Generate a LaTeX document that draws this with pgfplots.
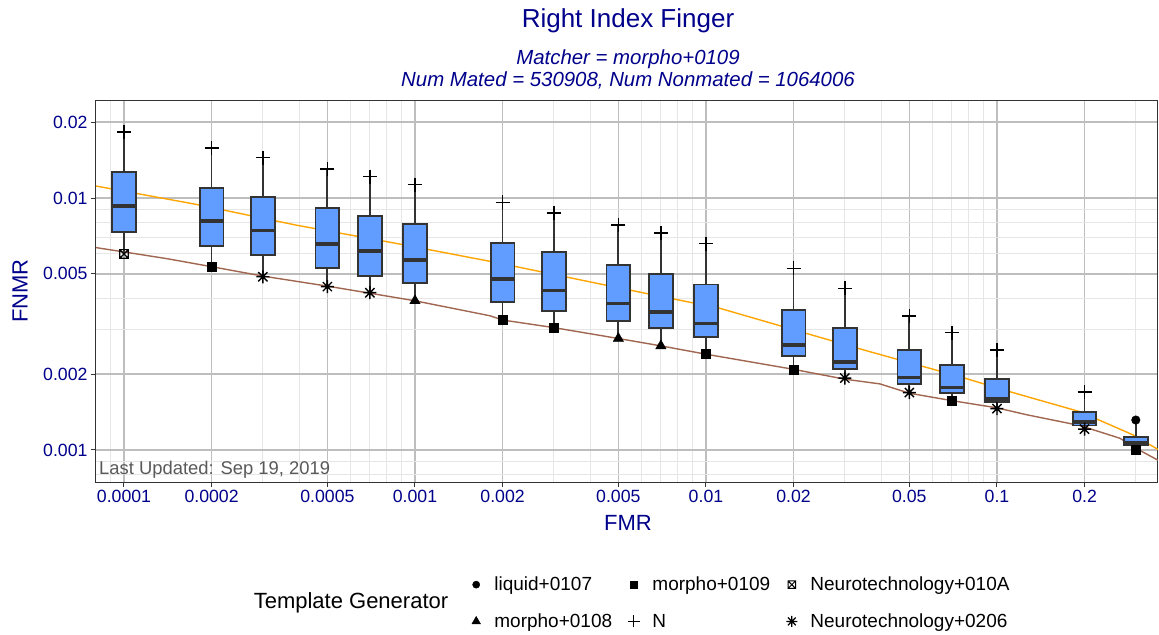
\documentclass[border=0pt]{standalone}
\usepackage{fontspec}
\setmainfont{Liberation Sans}
\usepackage{pgfplots}
\pgfplotsset{compat=1.18}
\definecolor{tblue}{HTML}{00008B}
\definecolor{boxfill}{HTML}{619CFF}
\definecolor{boxline}{HTML}{333333}
\definecolor{brownl}{HTML}{A0664F}
\definecolor{orangel}{HTML}{FFA500}
\definecolor{majgrid}{HTML}{BEBEBE}
\definecolor{mingrid}{HTML}{E6E6E6}
\newcommand{\fs}[1]{\fontsize{#1}{#1}\selectfont}
\pgfdeclareplotmark{boxx}{%
  \pgfpathrectangle{\pgfqpoint{-\pgfplotmarksize}{-\pgfplotmarksize}}{\pgfqpoint{2\pgfplotmarksize}{2\pgfplotmarksize}}%
  \pgfpathmoveto{\pgfqpoint{-\pgfplotmarksize}{-\pgfplotmarksize}}\pgfpathlineto{\pgfqpoint{\pgfplotmarksize}{\pgfplotmarksize}}%
  \pgfpathmoveto{\pgfqpoint{-\pgfplotmarksize}{\pgfplotmarksize}}\pgfpathlineto{\pgfqpoint{\pgfplotmarksize}{-\pgfplotmarksize}}%
  \pgfusepathqstroke}
\pgfdeclareplotmark{ast8}{%
  \pgfpathmoveto{\pgfqpoint{-\pgfplotmarksize}{0pt}}\pgfpathlineto{\pgfqpoint{\pgfplotmarksize}{0pt}}%
  \pgfpathmoveto{\pgfqpoint{0pt}{-\pgfplotmarksize}}\pgfpathlineto{\pgfqpoint{0pt}{\pgfplotmarksize}}%
  \pgfpathmoveto{\pgfqpoint{-0.707\pgfplotmarksize}{-0.707\pgfplotmarksize}}\pgfpathlineto{\pgfqpoint{0.707\pgfplotmarksize}{0.707\pgfplotmarksize}}%
  \pgfpathmoveto{\pgfqpoint{-0.707\pgfplotmarksize}{0.707\pgfplotmarksize}}\pgfpathlineto{\pgfqpoint{0.707\pgfplotmarksize}{-0.707\pgfplotmarksize}}%
  \pgfusepathqstroke}
% box: xl, x, xr, min, q1, med, q3, max
\newcommand{\bx}[8]{%
  \addplot[boxline, line width=1.8bp, forget plot] coordinates {(#2,#4) (#2,#8)};
  \addplot[draw=boxline, fill=boxfill, line width=1.8bp, forget plot] coordinates {(#1,#5) (#3,#5) (#3,#7) (#1,#7)} --cycle;
  \addplot[boxline, line width=3.6bp, forget plot] coordinates {(#1,#6) (#3,#6)};
}
\begin{document}
\begin{tikzpicture}
\useasboundingbox (0,0) rectangle (1159bp,635bp);
\begin{axis}[
  at={(96bp,153bp)}, anchor=south west, scale only axis,
  width=1062bp, height=382bp,
  xmode=log, ymode=log,
  xmin=8.013e-5, xmax=0.3575, ymin=7.464e-4, ymax=0.02449,
  xtick={0.0001,0.0002,0.0005,0.001,0.002,0.005,0.01,0.02,0.05,0.1,0.2},
  xticklabels={0.0001,0.0002,0.0005,0.001,0.002,0.005,0.01,0.02,0.05,0.1,0.2},
  ytick={0.001,0.002,0.005,0.01,0.02},
  yticklabels={0.001,0.002,0.005,0.01,0.02},
  minor xtick={0.00009,0.0003,0.0004,0.0006,0.0007,0.0008,0.0009,0.003,0.004,0.006,0.007,0.008,0.009,0.03,0.04,0.06,0.07,0.08,0.09,0.3},
  minor ytick={0.0008,0.0009,0.003,0.004,0.006,0.007,0.008,0.009},
  grid=both,
  major grid style={majgrid, line width=1.7bp},
  minor grid style={mingrid, line width=1bp},
  tick align=outside, major tick length=5bp, minor tick length=0pt,
  tick style={boxline, line width=1bp},
  xtick pos=bottom, ytick pos=left,
  axis line style={boxline, line width=1bp},
  xticklabel style={font=\fs{17.7bp}, text=tblue},
  yticklabel style={font=\fs{17.7bp}, text=tblue},
  /pgf/number format/assume math mode=true,
  legend columns=3,
  legend style={at={(0.352,-0.243)}, anchor=north west, draw=none, fill=none,
    inner sep=0pt, font=\fs{19bp}, row sep=17.5bp,
    /tikz/every even column/.append style={column sep=13bp}},
  legend cell align=left,
  legend image code/.code={\path (-6bp,-6bp) (16bp,6bp); \draw[#1] plot coordinates {(0bp,0bp)};},
]
% orange line
\addplot[orangel, line width=1.4bp, forget plot] coordinates {
(8.01e-5,0.01116) (1.768e-4,0.00944) (3.90e-4,0.00781) (8.60e-4,0.00661)
(1.898e-3,0.00555) (5.48e-3,0.00431) (0.01117,0.00365) (0.02531,0.002775)
(0.03661,0.002455) (0.07462,0.001954) (0.1108,0.001703) (0.1929,0.001419)
(0.2940,0.001147) (0.3602,0.00100)};
% brown line
\addplot[brownl, line width=1.4bp, forget plot] coordinates {
(8.0e-5,0.00636) (1.4e-4,0.00575) (2.0e-4,0.00534) (3.0e-4,0.00490) (5.0e-4,0.00447)
(7.0e-4,0.00419) (0.001,0.00391) (0.00181,0.00341) (0.002,0.00328)
(0.003,0.00306) (0.005,0.00277) (0.007,0.00259) (0.01,0.00240)
(0.02,0.00209) (0.03,0.00191) (0.0396,0.00183) (0.05,0.00168)
(0.07,0.00157) (0.1,0.00147) (0.1265,0.00138) (0.193,0.00125)
(0.2647,0.001113) (0.294,0.00103) (0.36,0.000907)};
\bx{0.00009106}{0.0001}{0.00010982}{0.00600}{0.00733}{0.00930}{0.01265}{0.01832}
\bx{0.00018212}{0.0002}{0.00021964}{0.00534}{0.00643}{0.00810}{0.01099}{0.01583}
\bx{0.00027318}{0.0003}{0.00032946}{0.00487}{0.00594}{0.00742}{0.01006}{0.01445}
\bx{0.0004553}{0.0005}{0.0005491}{0.00445}{0.00528}{0.00657}{0.00913}{0.01303}
\bx{0.00063742}{0.0007}{0.00076874}{0.00421}{0.00490}{0.00616}{0.00846}{0.01215}
\bx{0.0009106}{0.001}{0.0010982}{0.00391}{0.00459}{0.00568}{0.00786}{0.01129}
\bx{0.0018212}{0.002}{0.0021964}{0.00329}{0.00388}{0.00477}{0.00663}{0.00962}
\bx{0.0027318}{0.003}{0.0032946}{0.00305}{0.00357}{0.00429}{0.00609}{0.00874}
\bx{0.004553}{0.005}{0.005491}{0.00277}{0.00325}{0.00382}{0.00544}{0.00781}
\bx{0.0063742}{0.007}{0.0076874}{0.00259}{0.00306}{0.00352}{0.00499}{0.00726}
\bx{0.009106}{0.01}{0.010982}{0.00241}{0.00280}{0.00318}{0.00454}{0.00659}
\bx{0.018212}{0.02}{0.021964}{0.00209}{0.00236}{0.00261}{0.00359}{0.00526}
\bx{0.027318}{0.03}{0.032946}{0.00193}{0.00210}{0.00224}{0.00306}{0.00438}
\bx{0.04553}{0.05}{0.05491}{0.00169}{0.00183}{0.00194}{0.00249}{0.00341}
\bx{0.063742}{0.07}{0.076874}{0.00157}{0.00168}{0.00177}{0.00218}{0.00292}
\bx{0.09106}{0.1}{0.10982}{0.00146}{0.00155}{0.00159}{0.00191}{0.00249}
\bx{0.18212}{0.2}{0.21964}{0.00121}{0.00125}{0.00129}{0.00142}{0.00170}
\bx{0.27318}{0.3}{0.32946}{0.00100}{0.001045}{0.00107}{0.001126}{0.001315}
% markers
\addplot[only marks, mark=+, mark size=7bp, line width=1.5bp, black, forget plot] coordinates {
(0.0001,0.01832) (0.0002,0.01583) (0.0003,0.01445) (0.0005,0.01303) (0.0007,0.01215)
(0.001,0.01129) (0.002,0.00962) (0.003,0.00874) (0.005,0.00781) (0.007,0.00726)
(0.01,0.00659) (0.02,0.00526) (0.03,0.00438) (0.05,0.00341) (0.07,0.00292)
(0.1,0.00249) (0.2,0.00170)};
\addplot[only marks, mark=square*, mark size=4.6bp, black, forget plot] coordinates {
(0.0002,0.00534) (0.002,0.00329) (0.003,0.00305) (0.01,0.00241) (0.02,0.00209)
(0.07,0.00157) (0.3,0.00100)};
\addplot[only marks, mark=ast8, mark size=6.5bp, line width=1.4bp, black, forget plot] coordinates {
(0.0003,0.00487) (0.0005,0.00445) (0.0007,0.00421) (0.03,0.00193) (0.05,0.00169)
(0.1,0.00146) (0.2,0.00121)};
\addplot[only marks, mark=triangle*, mark size=6bp, black, forget plot] coordinates {
(0.001,0.00391) (0.005,0.00277) (0.007,0.00259)};
\addplot[only marks, mark=*, mark size=4.3bp, black, forget plot] coordinates {
(0.3,0.001315)};
\addplot[only marks, mark=boxx, mark size=4.3bp, line width=1.2bp, black, fill=white, forget plot] coordinates {
(0.0001,0.00600)};
% legend
\addlegendimage{only marks, mark=*, mark size=3.6bp, black}
\addlegendentry{liquid+0107}
\addlegendimage{only marks, mark=square*, mark size=3.8bp, black}
\addlegendentry{morpho+0109}
\addlegendimage{only marks, mark=boxx, mark size=3.8bp, line width=1bp, black}
\addlegendentry{Neurotechnology+010A}
\addlegendimage{only marks, mark=triangle*, mark size=5bp, black}
\addlegendentry{morpho+0108}
\addlegendimage{only marks, mark=+, mark size=6bp, line width=1.3bp, black}
\addlegendentry{N}
\addlegendimage{only marks, mark=ast8, mark size=5.5bp, line width=1.2bp, black}
\addlegendentry{Neurotechnology+0206}
\end{axis}
\node[anchor=west, text=black!65, font=\fs{18.4bp}, inner sep=0pt] at (99bp,165bp) {Last Updated: Sep 19, 2019};
\node[text=tblue, font=\fs{26bp}] at (628bp,614bp) {Right Index Finger};
\node[text=tblue, font=\fs{20.4bp}\itshape] at (628bp,576bp) {Matcher = morpho+0109};
\node[text=tblue, font=\fs{20.4bp}\itshape] at (628bp,555bp) {Num Mated = 530908, Num Nonmated = 1064006};
\node[text=tblue, font=\fs{22bp}] at (628bp,112bp) {FMR};
\node[text=tblue, font=\fs{22bp}, rotate=90] at (20bp,344bp) {FNMR};
\node[text=black, font=\fs{22bp}] at (351bp,32bp) {Template Generator};
\end{tikzpicture}
\end{document}
